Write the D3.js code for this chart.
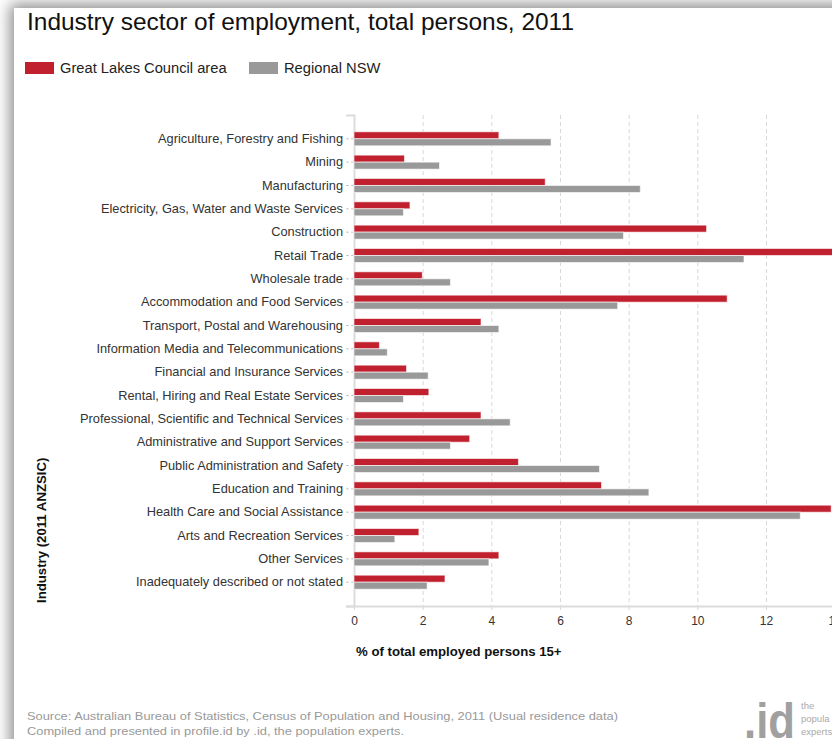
<!DOCTYPE html>
<html>
<head>
<meta charset="utf-8">
<script src="https://cdn.jsdelivr.net/npm/d3@7"></script>
<style>
    html, body { margin: 0; padding: 0; overflow: hidden; background: #fff; }
    body { width: 832px; height: 739px; position: relative; }
    #card {
        position: absolute; left: 14px; top: 8px; width: 900px; height: 800px;
        background: #fff; box-shadow: 0 0 14px 4px rgba(0,0,0,0.45);
    }
    #visual { position: absolute; left: 0; top: 0; }
</style>
</head>
<body>
<div id="card"></div>
<div id="visual"></div>
<script>
// data
const categories = [
    "Agriculture, Forestry and Fishing",
    "Mining",
    "Manufacturing",
    "Electricity, Gas, Water and Waste Services",
    "Construction",
    "Retail Trade",
    "Wholesale trade",
    "Accommodation and Food Services",
    "Transport, Postal and Warehousing",
    "Information Media and Telecommunications",
    "Financial and Insurance Services",
    "Rental, Hiring and Real Estate Services",
    "Professional, Scientific and Technical Services",
    "Administrative and Support Services",
    "Public Administration and Safety",
    "Education and Training",
    "Health Care and Social Assistance",
    "Arts and Recreation Services",
    "Other Services",
    "Inadequately described or not stated"
];
const seriesNames = ["Great Lakes Council area", "Regional NSW"];
const greatLakes = [4.22, 1.47, 5.57, 1.63, 10.27, 14.2, 1.99, 10.87, 3.70, 0.74,
                    1.53, 2.18, 3.70, 3.37, 4.79, 7.21, 13.9, 1.89, 4.22, 2.65];
const regionalNSW = [5.74, 2.49, 8.34, 1.44, 7.85, 11.36, 2.81, 7.68, 4.22, 0.97,
                     2.16, 1.44, 4.55, 2.81, 7.15, 8.59, 13.0, 1.19, 3.93, 2.13];
const xTicks = [0, 2, 4, 6, 8, 10, 12, 14];

const COLORS = ["#c1202f", "#999999"];
const FONT = "Liberation Sans, Arial, sans-serif";

let svg = d3.select("#visual").append("svg")
    .attr("width", 900)
    .attr("height", 739)
    .style("font-family", FONT);

let rows = categories.map(function (c, i) {
    return {name: c, values: [greatLakes[i], regionalNSW[i]]};
});

// scales
let x = d3.scaleLinear().domain([0, 14]).range([354, 354 + 14 * 34.33]);
let y = d3.scaleBand().domain(categories).range([115, 606])
    .paddingInner(0).paddingOuter(0.52);
let ySub = d3.scaleBand().domain(seriesNames)
    .range([y.bandwidth() / 2 - 7, y.bandwidth() / 2 + 7]);

// title
svg.append("text")
    .attr("x", 27)
    .attr("y", 30)
    .attr("textLength", 547)
    .attr("lengthAdjust", "spacingAndGlyphs")
    .style("font-size", "24px")
    .style("fill", "#111")
    .text("Industry sector of employment, total persons, 2011");

// legend
let legendX = [25, 249];
let legend = svg.selectAll(".legend")
    .data(seriesNames)
    .enter().append("g")
    .attr("class", "legend")
    .attr("transform", function (d, i) { return "translate(" + legendX[i] + ",62)"; });

legend.append("rect")
    .attr("width", 29)
    .attr("height", 12)
    .style("fill", function (d, i) { return COLORS[i]; });

legend.append("text")
    .attr("x", 35)
    .attr("y", 11)
    .style("font-size", "14.7px")
    .style("fill", "#222")
    .text(function (d) { return d; });

// vertical grid
svg.append("g")
    .selectAll("line")
    .data(xTicks.slice(1))
    .enter().append("line")
    .attr("x1", function (d) { return x(d) + 0.5; })
    .attr("x2", function (d) { return x(d) + 0.5; })
    .attr("y1", 115)
    .attr("y2", 606)
    .style("stroke", "#d8d8d8")
    .style("stroke-dasharray", "4,3");

// x axis
let xAxis = svg.append("g")
    .attr("transform", "translate(0,606)")
    .call(d3.axisBottom(x).tickValues(xTicks).tickSize(4).tickSizeOuter(0));
xAxis.select(".domain").remove();
xAxis.selectAll(".tick line").style("stroke", "#d8d8d8");
xAxis.selectAll("text")
    .attr("y", 10)
    .style("font-family", FONT)
    .style("font-size", "12px")
    .style("fill", "#333");
svg.append("line")
    .attr("x1", 346).attr("x2", 900)
    .attr("y1", 606.5).attr("y2", 606.5)
    .style("stroke", "#dcdcdc")
    .style("stroke-width", 2);

// y axis
let yAxis = svg.append("g")
    .attr("transform", "translate(354,0)")
    .call(d3.axisLeft(y).tickSize(8).tickSizeOuter(8).tickPadding(3));
yAxis.select(".domain").style("stroke", "#dcdcdc").style("stroke-width", 2);
yAxis.selectAll(".tick line")
    .style("stroke", "#c8c8c8")
    .style("stroke-dasharray", "3,2");
yAxis.selectAll("text")
    .style("font-family", FONT)
    .style("font-size", "12.8px")
    .style("fill", "#333");

// bars
let group = svg.append("g")
    .selectAll("g")
    .data(rows)
    .enter().append("g")
    .attr("transform", function (d) { return "translate(0," + y(d.name) + ")"; });

group.selectAll("rect")
    .data(function (d) { return d.values.map(function (v, i) { return {s: seriesNames[i], v: v, i: i}; }); })
    .enter().append("rect")
    .attr("x", x(0))
    .attr("y", function (d) { return ySub(d.s); })
    .attr("width", function (d) { return x(d.v) - x(0); })
    .attr("height", ySub.bandwidth())
    .style("fill", function (d) { return COLORS[d.i]; })
    .style("stroke", "#fff")
    .style("stroke-opacity", 0.6)
    .style("stroke-width", 1);

// axis titles
svg.append("text")
    .attr("x", 356)
    .attr("y", 656)
    .style("font-size", "13.2px")
    .style("font-weight", "bold")
    .style("fill", "#111")
    .text("% of total employed persons 15+");

svg.append("text")
    .attr("transform", "translate(46,603) rotate(-90)")
    .style("font-size", "13.2px")
    .style("font-weight", "bold")
    .style("fill", "#111")
    .text("Industry (2011 ANZSIC)");

// source notes
svg.append("text")
    .attr("x", 27).attr("y", 720)
    .attr("textLength", 591)
    .attr("lengthAdjust", "spacingAndGlyphs")
    .style("font-size", "11.5px")
    .style("fill", "#999")
    .text("Source: Australian Bureau of Statistics, Census of Population and Housing, 2011 (Usual residence data)");
svg.append("text")
    .attr("x", 27).attr("y", 735)
    .attr("textLength", 377)
    .attr("lengthAdjust", "spacingAndGlyphs")
    .style("font-size", "11.5px")
    .style("fill", "#999")
    .text("Compiled and presented in profile.id by .id, the population experts.");

// logo
svg.append("text")
    .attr("x", 744).attr("y", 738)
    .attr("textLength", 51)
    .attr("lengthAdjust", "spacingAndGlyphs")
    .style("font-size", "50px")
    .style("font-weight", "bold")
    .style("fill", "#a0a0a0")
    .text(".id");
let logoWords = ["the", "popula", "experts"];
svg.selectAll(".logoword")
    .data(logoWords)
    .enter().append("text")
    .attr("class", "logoword")
    .attr("x", 801)
    .attr("y", function (d, i) { return 709 + i * 13; })
    .style("font-size", "9.5px")
    .style("fill", "#aaa")
    .text(function (d) { return d; });
</script>
</body>
</html>
